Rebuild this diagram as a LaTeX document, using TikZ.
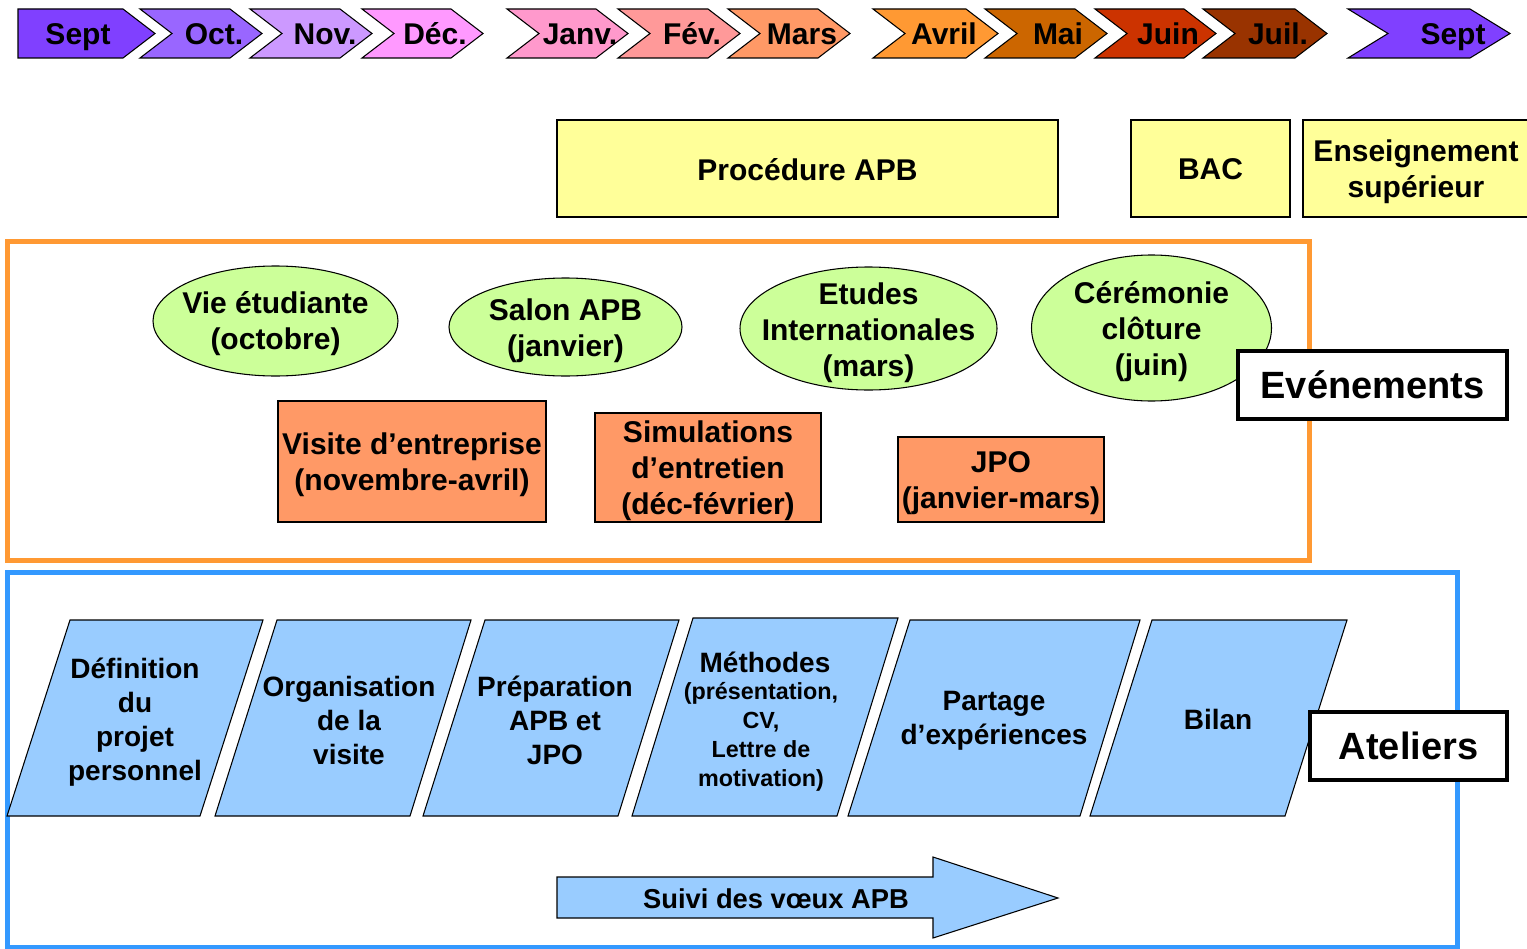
\documentclass[tikz,border=0pt]{standalone}
\usepackage{fontspec}
\setmainfont{Liberation Sans}
\usetikzlibrary{shapes.geometric}
\definecolor{cSept}{HTML}{8040FF}
\definecolor{cOct}{HTML}{9966FF}
\definecolor{cNov}{HTML}{CC99FF}
\definecolor{cDec}{HTML}{FF99FF}
\definecolor{cJanv}{HTML}{FF99CC}
\definecolor{cFev}{HTML}{FF9999}
\definecolor{cMars}{HTML}{FF9966}
\definecolor{cAvril}{HTML}{FF9933}
\definecolor{cMai}{HTML}{CC6600}
\definecolor{cJuin}{HTML}{CC3300}
\definecolor{cJuil}{HTML}{993300}
\definecolor{cYellow}{HTML}{FFFF99}
\definecolor{cGreen}{HTML}{CCFF99}
\definecolor{cOrangeBox}{HTML}{FF9966}
\definecolor{cOrangeFrame}{HTML}{FF9933}
\definecolor{cBlueFrame}{HTML}{3399FF}
\definecolor{cBlue}{HTML}{99CCFF}
% #1 name, #2 left, #3 tip, #4 depth, #5 colour, #6 label, #7 text x
\newcommand\monthchev[7]{%
  \draw[chevline, fill=#5] (#2,9) -- ({#3-#4},9) -- (#3,33.5) -- ({#3-#4},58) -- (#2,58) -- ({#2+#4},33.5) -- cycle;
  \node[monthtxt] (#1) at (#7,45) {#6};}
\begin{document}
\begin{tikzpicture}[x=0.75pt,y=-0.75pt,
  chevline/.style={draw=black, line width=0.8pt, line join=miter},
  monthtxt/.style={anchor=base, inner sep=0pt, font=\fontsize{22.5}{26}\selectfont\bfseries},
  boxtxt/.style={align=center, inner sep=0pt, font=\fontsize{22.5}{27}\selectfont\bfseries},
  yellowbox/.style={draw=black, line width=0.8pt, fill=cYellow},
  evell/.style={draw=black, line width=0.8pt, fill=cGreen},
  orangebox/.style={draw=black, line width=0.8pt, fill=cOrangeBox},
  para/.style={draw=black, line width=0.8pt, fill=cBlue, line join=miter},
  paratxt/.style={align=center, inner sep=0pt, font=\fontsize{21}{25.5}\selectfont\bfseries},
  labelbox/.style={draw=black, line width=3.5pt, fill=white},
  labeltxt/.style={inner sep=0pt, font=\fontsize{28.5}{32}\selectfont\bfseries}
]
\useasboundingbox (0,0) rectangle (1527,949);
\fill[white] (0,0) rectangle (1527,949);

% months
\draw[chevline, fill=cSept] (18,9) -- (123,9) -- (155,33.5) -- (123,58) -- (18,58) -- cycle;
\node[monthtxt] (m1) at (78,45) {Sept};
\monthchev{m2}{140}{262}{32}{cOct}{Oct.}{214}
\monthchev{m3}{250}{372}{32}{cNov}{Nov.}{325}
\monthchev{m4}{362}{483}{32}{cDec}{Déc.}{435}
\monthchev{m5}{507}{628}{32}{cJanv}{Janv.}{580}
\monthchev{m6}{618}{740}{32}{cFev}{Fév.}{692}
\monthchev{m7}{728}{850}{32}{cMars}{Mars}{802}
\monthchev{m8}{873}{998}{32}{cAvril}{Avril}{944}
\monthchev{m9}{985}{1107}{32}{cMai}{Mai}{1058}
\monthchev{m10}{1095}{1216}{32}{cJuin}{Juin}{1168}
\monthchev{m11}{1203}{1327}{32}{cJuil}{Juil.}{1278}
\monthchev{m12}{1348}{1510}{40}{cSept}{Sept}{1453}

% yellow boxes
\draw[yellowbox] (557,120) rectangle (1058,217);
\node[boxtxt] (apb) at (807.5,169.5) {Procédure APB};
\draw[yellowbox] (1131,120) rectangle (1290,217);
\node[boxtxt] (bac) at (1210.5,169.5) {BAC};
\draw[yellowbox] (1303,120) rectangle (1530,217);
\node[boxtxt] (sup) at (1416,171.5) {Enseignement\\supérieur};

% events frame
\draw[cOrangeFrame, line width=3.75pt] (7,241) rectangle (1309,560);
\draw[evell] (275.5,321) ellipse [x radius=122.5, y radius=55];
\node[boxtxt] (vie) at (275.5,324) {Vie étudiante\\(octobre)};
\draw[evell] (565.5,327) ellipse [x radius=116.5, y radius=49];
\node[boxtxt] (salon) at (565.5,331) {Salon APB\\(janvier)};
\draw[evell] (868.5,328.5) ellipse [x radius=128.5, y radius=61.5];
\node[boxtxt] (etudes) at (868.5,333) {Etudes\\Internationales\\(mars)};
\draw[evell] (1151.5,328) ellipse [x radius=120, y radius=73];
\node[boxtxt] (ceremonie) at (1151.5,331.5) {Cérémonie\\clôture\\(juin)};

\draw[orangebox] (278,401) rectangle (546,522);
\node[boxtxt] (visite) at (412,464.5) {Visite d’entreprise\\(novembre-avril)};
\draw[orangebox] (595,413) rectangle (821,522);
\node[boxtxt] (simul) at (708,471) {Simulations\\d’entretien\\(déc-février)};
\draw[orangebox] (898,437) rectangle (1104,522);
\node[boxtxt] (jpo) at (1001,483) {JPO\\(janvier-mars)};

\draw[labelbox] (1238,351) rectangle (1507,419);
\node[labeltxt] (evt) at (1372.5,385) {Evénements};

% workshops frame
\draw[cBlueFrame, line width=3.75pt] (7,572) rectangle (1457,947);
\draw[para] (7,816) -- (70,620) -- (263,620) -- (200,816) -- cycle;
\node[paratxt] (p1) at (135,722) {Définition\\du\\projet\\personnel};
\draw[para] (215,816) -- (277,620) -- (471,620) -- (410,816) -- cycle;
\node[paratxt] (p2) at (349,720) {Organisation\\de la\\visite};
\draw[para] (423,816) -- (485,620) -- (679,620) -- (618,816) -- cycle;
\node[paratxt] (p3) at (555,720) {Préparation\\APB et\\JPO};
\draw[para] (632,816) -- (693,618) -- (898,618) -- (837,816) -- cycle;
\node[paratxt] (p4a) at (765,662) {Méthodes};
\node[align=center, inner sep=0pt, font=\fontsize{17.5}{21.75}\selectfont\bfseries] (p4b) at (761,737) {(présentation,\\CV,\\Lettre de\\motivation)};
\draw[para] (848,816) -- (910,620) -- (1140,620) -- (1080,816) -- cycle;
\node[paratxt] (p5) at (994,721) {Partage\\d’expériences};
\draw[para] (1090,816) -- (1152,620) -- (1347,620) -- (1285,816) -- cycle;
\node[paratxt] (p6) at (1218,719) {Bilan};

\draw[labelbox] (1310,712) rectangle (1507,780);
\node[labeltxt] (atel) at (1408.5,746) {Ateliers};

% arrow
\draw[para] (557,877) -- (933,877) -- (933,857) -- (1058,898) -- (933,938) -- (933,918) -- (557,918) -- cycle;
\node[inner sep=0pt, font=\fontsize{20.5}{24}\selectfont\bfseries] (suivi) at (776,899) {Suivi des vœux APB};
\end{tikzpicture}
\end{document}
